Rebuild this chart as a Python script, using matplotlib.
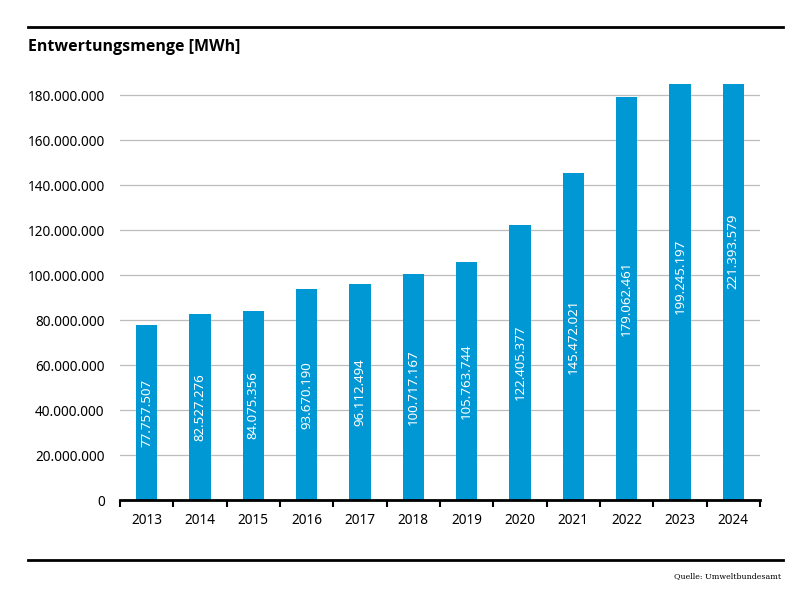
import numpy as np
import matplotlib.pyplot as plt
from matplotlib.lines import Line2D

years = ['2013', '2014', '2015', '2016', '2017', '2018',
         '2019', '2020', '2021', '2022', '2023', '2024']
values = [77757507, 82527276, 84075356, 93670190, 96112494, 100717167,
          105763744, 122405377, 145472021, 179062461, 199245197, 221393579]
y_ticks = [0, 20000000, 40000000, 60000000, 80000000, 100000000,
           120000000, 140000000, 160000000, 180000000]

def de_fmt(v):
    return f'{v:,}'.replace(',', '.')

plt.rcParams['font.family'] = ['Noto Sans', 'DejaVu Sans']

fig = plt.figure(figsize=(7.98, 5.93), dpi=100)
ax = fig.add_axes([120/798, 1-500/593, 640/798, 416/593])

x = np.arange(len(years))
ax.bar(x, values, width=0.4, color='#0097d5', zorder=3)
ax.set_xlim(-0.5, len(years) - 0.5)
ax.set_ylim(0, 185000000)

for xi, v in zip(x, values):
    ax.text(xi, v / 2, de_fmt(v), rotation=90, ha='center', va='center',
            color='white', fontsize=9.5, zorder=4)

ax.set_yticks(y_ticks)
ax.set_yticklabels([de_fmt(t) for t in y_ticks], fontsize=9.8)
ax.tick_params(axis='y', length=0, pad=11)
for t in y_ticks[1:]:
    ax.axhline(t, color='#bdbdbd', lw=0.9, zorder=1)

ax.set_xticks(x)
ax.set_xticklabels(years, fontsize=9.8)
ax.tick_params(axis='x', length=0, pad=9)
ax.set_xticks(np.arange(-0.5, len(years)), minor=True)
ax.tick_params(axis='x', which='minor', length=5, width=1.5, color='black')

for s in ['top', 'right', 'left']:
    ax.spines[s].set_visible(False)
ax.spines['bottom'].set_linewidth(2)
ax.spines['bottom'].set_zorder(5)

fig.text(28/798, 1-47/593, 'Entwertungsmenge [MWh]', fontsize=11.5,
         family='Open Sans', fontweight='bold', ha='left', va='center')
fig.add_artist(Line2D([28/798, 783/798], [1-27/593, 1-27/593], color='black', lw=2))
fig.add_artist(Line2D([28/798, 783/798], [1-560/593, 1-560/593], color='black', lw=2))
fig.text(781/798, 1-576/593, 'Quelle: Umweltbundesamt', fontsize=5.7,
         family='DejaVu Serif', ha='right', va='center')

fig.savefig('out.png', dpi=100)
